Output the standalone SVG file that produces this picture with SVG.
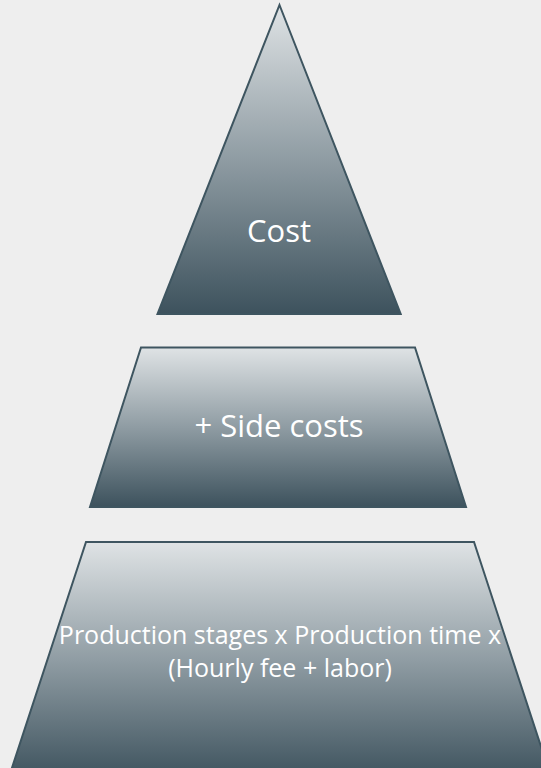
<svg xmlns="http://www.w3.org/2000/svg" width="541" height="768" viewBox="0 0 541 768">
<defs>
<linearGradient id="g" x1="0" y1="0" x2="0" y2="1">
<stop offset="0" stop-color="#DFE3E5"/>
<stop offset="0.5" stop-color="#8F9CA3"/>
<stop offset="1" stop-color="#3D525D"/>
</linearGradient>
<style>
.shape{fill:url(#g);stroke:#3E5560;stroke-width:2;stroke-linejoin:miter}
.lbl{fill:#FFFFFF;font-family:"Open Sans","Noto Sans","Liberation Sans",sans-serif;text-anchor:middle}
</style>
</defs>
<rect x="0" y="0" width="541" height="768" fill="#EEEEEE"/>
<g id="top-cost">
<polygon class="shape" points="279.5,5 400.7,314 157.5,314"/>
<text class="lbl" x="279" y="242" font-size="31">Cost</text>
</g>
<g id="middle-side-costs">
<polygon class="shape" points="141,347.5 415,347.5 466,507 90,507"/>
<text class="lbl" x="279" y="437" font-size="31">+ Side costs</text>
</g>
<g id="bottom-production">
<polygon class="shape" points="86,542 474,542 552,780 8,780"/>
<text class="lbl" x="280" y="644" font-size="25">Production stages x Production time x</text>
<text class="lbl" x="280" y="677" font-size="25">(Hourly fee + labor)</text>
</g>
<g id="connectors"/>
</svg>
